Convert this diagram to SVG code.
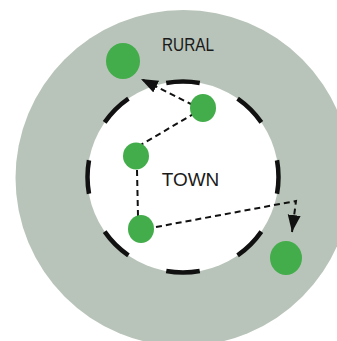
<svg xmlns="http://www.w3.org/2000/svg" width="337" height="341" viewBox="0 0 337 341">
  <style>
    .zone-rural { fill: #b8c4b9; }
    .zone-town { fill: #ffffff; }
    .boundary { fill: none; stroke: #111; stroke-width: 4.5; stroke-dasharray: 0.45 0.55; stroke-dashoffset: 0.225; }
    .site { fill: #43ad4b; }
    .label { font-family: "Liberation Sans", Arial, sans-serif; font-size: 18.5px; fill: #1a1a1a; text-anchor: middle; }
    .move { fill: none; stroke: #111; stroke-width: 2; stroke-dasharray: 6 4; }
  </style>
  <defs>
    <marker id="arrow" markerUnits="userSpaceOnUse" markerWidth="18" markerHeight="14" refX="17" refY="6.5" orient="auto">
      <path d="M0,0 L17,6.5 L0,13 z" fill="#111"/>
    </marker>
  </defs>

  <g id="rural">
    <circle class="zone-rural" cx="183.5" cy="178" r="168"/>
    <text class="label" x="188" y="50.5" textLength="52" lengthAdjust="spacingAndGlyphs">RURAL</text>
  </g>

  <g id="town">
    <circle class="zone-town" cx="183" cy="177" r="95.5"/>
    <circle class="boundary" cx="183" cy="177" r="95.5" pathLength="8"/>
    <text class="label" x="190.5" y="185.5" textLength="57.5" lengthAdjust="spacingAndGlyphs">TOWN</text>
  </g>

  <g id="connectors">
    <path class="move" d="M193,105 L141,79" marker-end="url(#arrow)"/>
    <path class="move" d="M195,113 L139,146"/>
    <path class="move" d="M137,170 L138,216"/>
    <path class="move" d="M156,227 L296,201 L292,232" marker-end="url(#arrow)"/>
  </g>

  <g id="site-rural-north"><ellipse class="site" cx="123" cy="61" rx="17" ry="18"/></g>
  <g id="site-town-1"><ellipse class="site" cx="203" cy="108" rx="13" ry="14"/></g>
  <g id="site-town-2"><ellipse class="site" cx="136" cy="156" rx="13" ry="13.5"/></g>
  <g id="site-town-3"><ellipse class="site" cx="141" cy="229" rx="13" ry="14"/></g>
  <g id="site-rural-south"><ellipse class="site" cx="286" cy="258" rx="16" ry="17"/></g>
</svg>
